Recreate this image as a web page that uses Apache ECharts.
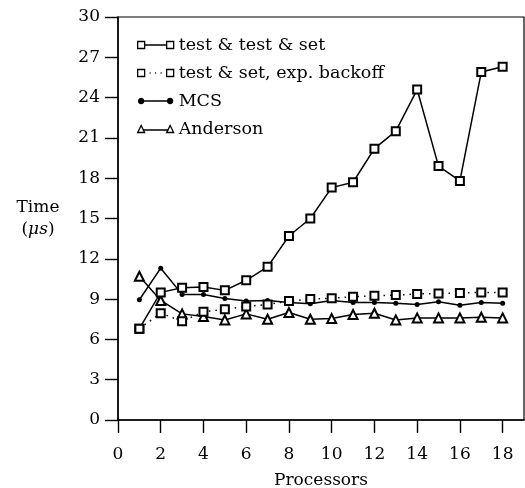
<!DOCTYPE html>
<html>
<head>
<meta charset="utf-8">
<script src="https://cdn.jsdelivr.net/npm/echarts@6/dist/echarts.min.js"></script>
<style>html,body{margin:0;padding:0;background:#fff}#c{width:525px;height:488px}</style>
</head>
<body>
<div id="c"></div>
<script>
var processors = [1,2,3,4,5,6,7,8,9,10,11,12,13,14,15,16,17,18];
var testTestSet = [6.8, 9.5, 9.85, 9.9, 9.65, 10.4, 11.4, 13.7, 15.0, 17.3, 17.7, 20.2, 21.5, 24.6, 18.9, 17.8, 25.9, 26.3];
var testSetBackoff = [6.8, 7.95, 7.35, 8.05, 8.25, 8.45, 8.6, 8.85, 9.0, 9.07, 9.17, 9.25, 9.3, 9.38, 9.42, 9.45, 9.5, 9.5];
var mcs = [8.95, 11.3, 9.35, 9.35, 9.05, 8.85, 8.9, 8.75, 8.65, 8.9, 8.75, 8.75, 8.7, 8.6, 8.8, 8.55, 8.75, 8.7];
var anderson = [10.7, 8.9, 7.9, 7.7, 7.45, 7.9, 7.5, 8.0, 7.5, 7.55, 7.85, 7.95, 7.45, 7.6, 7.6, 7.6, 7.65, 7.6];
var xTicks = [0,2,4,6,8,10,12,14,16,18];
var seriesNames = ['test & test & set', 'test & set, exp. backoff', 'MCS', 'Anderson'];

function pairs(ys){ return processors.map(function(x,i){ return [x, ys[i]]; }); }

var FONT = 'DejaVu Serif';
var iconSq = 'path://M0 0H7V7H0Z M7 3.5L29 3.5 M29 0H36V7H29Z';
var iconDot = 'path://M0 0H7V7H0Z M12 3.5L13 3.5 M17.5 3.5L18.5 3.5 M23 3.5L24 3.5 M29 0H36V7H29Z';
var iconCirc = 'path://M1 3.5A2.5 2.5 0 1 0 6 3.5A2.5 2.5 0 1 0 1 3.5Z M6 3.5L30 3.5 M30 3.5A2.5 2.5 0 1 0 35 3.5A2.5 2.5 0 1 0 30 3.5Z M0 0M36 7';
var iconTri = 'path://M0 7L3.5 0L7 7Z M5 4.5L31 4.5 M29 7L32.5 0L36 7Z';

var chart = echarts.init(document.getElementById('c'), null, {renderer:'canvas'});
var lineW = 1.5;
chart.setOption({
  animation:false,
  backgroundColor:'#fff',
  textStyle:{fontFamily:FONT, color:'#000'},
  grid:{left:118, right:1, top:17, bottom:68, containLabel:false, outerBoundsMode:'none',
        show:true, borderColor:'#000', borderWidth:1.2, backgroundColor:'transparent'},
  legend:{
    left:132, top:31, orient:'vertical', itemWidth:36, itemHeight:7, itemGap:10,
    textStyle:{fontFamily:FONT, fontSize:17.5, color:'#000'},
    data:[
      {name:seriesNames[0], icon:iconSq, itemStyle:{color:'#fff', borderColor:'#000', borderWidth:1.3}},
      {name:seriesNames[1], icon:iconDot, itemStyle:{color:'#fff', borderColor:'#000', borderWidth:1.3}},
      {name:seriesNames[2], icon:iconCirc, itemStyle:{color:'#000', borderColor:'#000', borderWidth:1.3}},
      {name:seriesNames[3], icon:iconTri, itemStyle:{color:'#fff', borderColor:'#000', borderWidth:1.3}}
    ]
  },
  xAxis:{
    type:'value', min:0, max:19, interval:2,
    name:'Processors', nameLocation:'middle', nameGap:52,
    nameTextStyle:{fontFamily:FONT, fontSize:17, color:'#000'},
    axisLine:{show:true, lineStyle:{color:'#000', width:1.5}},
    axisTick:{show:true, length:13, customValues:xTicks, lineStyle:{color:'#000', width:1.4}},
    axisLabel:{customValues:xTicks, margin:26, fontFamily:FONT, fontSize:17, color:'#000'},
    splitLine:{show:false}
  },
  yAxis:{
    type:'value', min:0, max:30, interval:3,
    name:'{a|Time}\n{b|(}{c|μs}{b|)}', nameLocation:'middle', nameRotate:0, nameGap:80,
    nameTextStyle:{fontFamily:FONT, fontSize:17, color:'#000', align:'center',
      rich:{a:{fontFamily:FONT, fontSize:17, lineHeight:22}, b:{fontFamily:FONT, fontSize:17, lineHeight:22}, c:{fontFamily:FONT, fontSize:17, fontStyle:'italic', lineHeight:22}}},
    axisLine:{show:true, lineStyle:{color:'#000', width:1.5}},
    axisTick:{show:true, length:13, lineStyle:{color:'#000', width:1.4}},
    axisLabel:{margin:18, fontFamily:FONT, fontSize:17, color:'#000'},
    splitLine:{show:false}
  },
  series:[
    {name:seriesNames[0], type:'line', data:pairs(testTestSet), symbol:'emptyRect', symbolSize:8,
     lineStyle:{color:'#000', width:lineW}, itemStyle:{color:'#000', borderWidth:1.5}, z:4},
    {name:seriesNames[1], type:'line', data:pairs(testSetBackoff), symbol:'emptyRect', symbolSize:8,
     lineStyle:{color:'#000', width:1.5, type:[1.5,5]}, itemStyle:{color:'#000', borderWidth:1.5}, z:3},
    {name:seriesNames[2], type:'line', data:pairs(mcs), symbol:'circle', symbolSize:5,
     lineStyle:{color:'#000', width:lineW}, itemStyle:{color:'#000'}, z:2},
    {name:seriesNames[3], type:'line', data:pairs(anderson), symbol:'emptyTriangle', symbolSize:9,
     lineStyle:{color:'#000', width:lineW}, itemStyle:{color:'#000', borderWidth:1.3}, z:1}
  ]
});
</script>
</body>
</html>
